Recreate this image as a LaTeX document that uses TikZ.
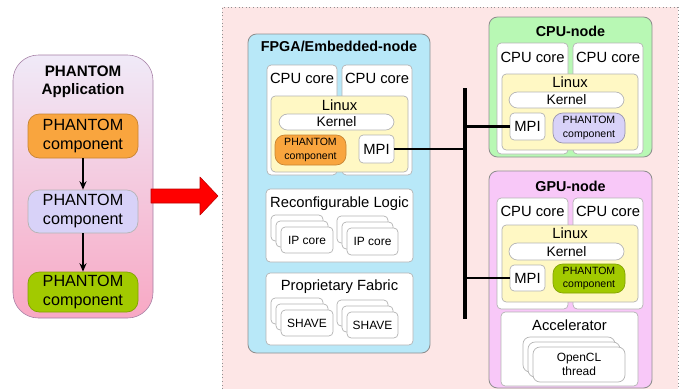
\documentclass[tikz,border=0pt]{standalone}
\usepackage{fontspec}
\setmainfont{Liberation Sans}
\usetikzlibrary{arrows.meta}

\definecolor{appTop}{HTML}{F0EAF8}
\definecolor{appBot}{HTML}{F8A8C4}
\definecolor{compOrange}{HTML}{F9A53E}
\definecolor{compLav}{HTML}{D8D2F8}
\definecolor{compGreen}{HTML}{A2CA00}
\definecolor{areaPink}{HTML}{FDE6E6}
\definecolor{fpgaBlue}{HTML}{B8E8F8}
\definecolor{cpuGreen}{HTML}{B8F8B4}
\definecolor{gpuPink}{HTML}{F8C8F8}
\definecolor{linuxYellow}{HTML}{FFF8C4}
\definecolor{edge}{HTML}{B4B4B4}

\newcommand\fApp{\bfseries\fontsize{10.8}{13}\selectfont}
\newcommand\fTitle{\bfseries\fontsize{10.2}{12}\selectfont}
\newcommand\fComp{\fontsize{11.5}{13.5}\selectfont}
\newcommand\fCore{\fontsize{10.5}{12}\selectfont}
\newcommand\fKern{\fontsize{9.8}{11}\selectfont}
\newcommand\fSmall{\fontsize{7.5}{9.5}\selectfont}
\newcommand\fStack{\fontsize{8.5}{10}\selectfont}
\def\pxu{0.025cm}

\tikzset{
  sz/.style 2 args={minimum width=#1*\pxu, minimum height=#2*\pxu},
  hd/.style n args={3}{label={[anchor=center, align=center, yshift=-#1*\pxu, font=#2]north:{#3}}},
  box/.style={draw=edge, fill=white, rounded corners=3pt, inner sep=0pt, line width=0.5pt},
  nodebox/.style={draw=edge!80!black, rounded corners=6pt, inner sep=0pt, line width=0.6pt},
  comp/.style={box, rounded corners=8pt, align=center, font=\fComp},
  smallcomp/.style={box, rounded corners=7pt, align=center, font=\fSmall},
  pill/.style={box, rounded corners=6pt, font=\fKern},
  bus/.style={line width=2.3pt, line cap=rect},
  link/.style={line width=1.9pt}
}

\begin{document}
\begin{tikzpicture}[x=0.025cm, y=-0.025cm, >={Stealth[length=6pt,width=5pt]}, line join=round]
	%% frame
	\useasboundingbox (0,0) rectangle (682,389);
	%% platform area
	\fill[areaPink] (222,7) rectangle (678,389);
	\draw[edge!80!black, dotted, line width=0.6pt] (222,389) -- (222,7) -- (678,7) -- (678,389);
	%% application
	\node[draw=edge!70!violet, rounded corners=18pt, top color=appTop, bottom color=appBot,
	  sz={140}{263}, hd={27}{\fApp}{PHANTOM\\Application}] (app) at (83,186.5) {};
	\node[comp, fill=compOrange, draw=compOrange!80!black, sz={110}{44}] (compA) at (83,136) {PHANTOM\\component};
	\node[comp, fill=compLav, sz={110}{43}] (compB) at (83,211.5) {PHANTOM\\component};
	\node[comp, fill=compGreen, draw=compGreen!80!black, sz={110}{40}] (compC) at (83,292) {PHANTOM\\component};
	\draw[->, line width=0.8pt] (compA) -- (compB);
	\draw[->, line width=0.8pt] (compB) -- (compC);
	%% mapping arrow
	\draw[red!75!black, fill=red, line width=0.4pt] (151,189) -- (200,189) -- (200,177) -- (218,196)
	  -- (200,215) -- (200,203) -- (151,203) -- cycle;
	%% FPGA/Embedded-node
	\node[nodebox, fill=fpgaBlue, sz={182}{319}, hd={13}{\fTitle}{FPGA/Embedded-node}] (fpga) at (339,193.5) {};
	\node[box, sz={70}{110}, hd={14}{\fCore}{CPU core}] (fpgaCoreL) at (302,120) {};
	\node[box, sz={70}{110}, hd={14}{\fCore}{CPU core}] (fpgaCoreR) at (377,120) {};
	\node[box, fill=linuxYellow, sz={137}{76}, hd={10}{\fCore}{Linux}] (fpgaLinux) at (339.5,134) {};
	\node[pill, sz={115}{16}] (fpgaKernel) at (336.5,122) {Kernel};
	\node[smallcomp, fill=compOrange, draw=compOrange!80!black, sz={71}{30}] (fpgaComp) at (310.5,150) {PHANTOM\\component};
	\node[box, sz={35}{28}, font=\fCore] (fpgaMPI) at (376.5,149) {MPI};
	\node[box, sz={147}{73}, hd={15}{\fCore}{Reconfigurable Logic}] (recon) at (339.5,225.5) {};
	\foreach \k in {2,1}
	  \node[box, sz={52}{26}] (ipA\k) at (307-5*\k, 240-6*\k) {};
	\node[box, sz={52}{26}, font=\fStack] (ipA) at (307,240) {IP core};
	\foreach \k in {2,1}
	  \node[box, sz={51}{27}] (ipB\k) at (372.5-5*\k, 241.5-6*\k) {};
	\node[box, sz={51}{27}, font=\fStack] (ipB) at (372.5,241.5) {IP core};
	\node[box, sz={147}{72}, hd={14}{\fCore}{Proprietary Fabric}] (fabric) at (339.5,309) {};
	\foreach \k in {2,1}
	  \node[box, sz={52}{26}] (shaveA\k) at (307-5*\k, 323-6*\k) {};
	\node[box, sz={52}{26}, font=\fStack] (shaveA) at (307,323) {SHAVE};
	\foreach \k in {2,1}
	  \node[box, sz={51}{26}] (shaveB\k) at (372.5-5*\k, 325-6*\k) {};
	\node[box, sz={51}{26}, font=\fStack] (shaveB) at (372.5,325) {SHAVE};
	%% CPU-node
	\node[nodebox, fill=cpuGreen, sz={163}{140}, hd={15}{\fTitle}{CPU-node}] (cpu) at (570.5,87) {};
	\node[box, sz={71}{111}, hd={15}{\fCore}{CPU core}] (cpuCoreL) at (532.5,98.5) {};
	\node[box, sz={70}{111}, hd={15}{\fCore}{CPU core}] (cpuCoreR) at (608,98.5) {};
	\node[box, fill=linuxYellow, sz={136}{76}, hd={9}{\fCore}{Linux}] (cpuLinux) at (570,112) {};
	\node[pill, sz={115}{16}] (cpuKernel) at (566.5,100) {Kernel};
	\node[box, sz={35}{27}, font=\fCore] (cpuMPI) at (527.5,126.5) {MPI};
	\node[smallcomp, fill=compLav, draw=compLav!70!black, sz={72}{30}] (cpuComp) at (589,128) {PHANTOM\\component};
	%% GPU-node
	\node[nodebox, fill=gpuPink, sz={163}{217}, hd={16}{\fTitle}{GPU-node}] (gpu) at (570.5,279.5) {};
	\node[box, sz={71}{111}, hd={14}{\fCore}{CPU core}] (gpuCoreL) at (532.5,253.5) {};
	\node[box, sz={70}{111}, hd={14}{\fCore}{CPU core}] (gpuCoreR) at (608,253.5) {};
	\node[box, fill=linuxYellow, sz={136}{77}, hd={9}{\fCore}{Linux}] (gpuLinux) at (570,263.5) {};
	\node[pill, sz={115}{17}] (gpuKernel) at (566.5,251.5) {Kernel};
	\node[box, sz={35}{26}, font=\fCore] (gpuMPI) at (527.5,278) {MPI};
	\node[smallcomp, fill=compGreen, draw=compGreen!80!black, sz={72}{29}] (gpuComp) at (589,278.5) {PHANTOM\\component};
	\node[box, sz={137}{74}, hd={14}{\fCore}{Accelerator}] (accel) at (569.5,349) {};
	\foreach \k in {2,1}
	  \node[box, rounded corners=5pt, sz={92}{35}] (clThr\k) at (579-5*\k, 364.5-5*\k) {};
	\node[box, rounded corners=5pt, sz={92}{35}, font=\fStack, align=center] (clThr) at (579,364.5) {OpenCL\\thread};
	%% interconnect
	\coordinate (busT) at (465,90);
	\coordinate (busB) at (465,317);
	\draw[bus] (busT) -- (busB);
	\draw[link] (fpgaMPI.east) -- (fpgaMPI.east -| busT);
	\draw[link] (cpuMPI.west) -- (cpuMPI.west -| busT);
	\draw[link] (gpuMPI.west) -- (gpuMPI.west -| busT);
\end{tikzpicture}
\end{document}
